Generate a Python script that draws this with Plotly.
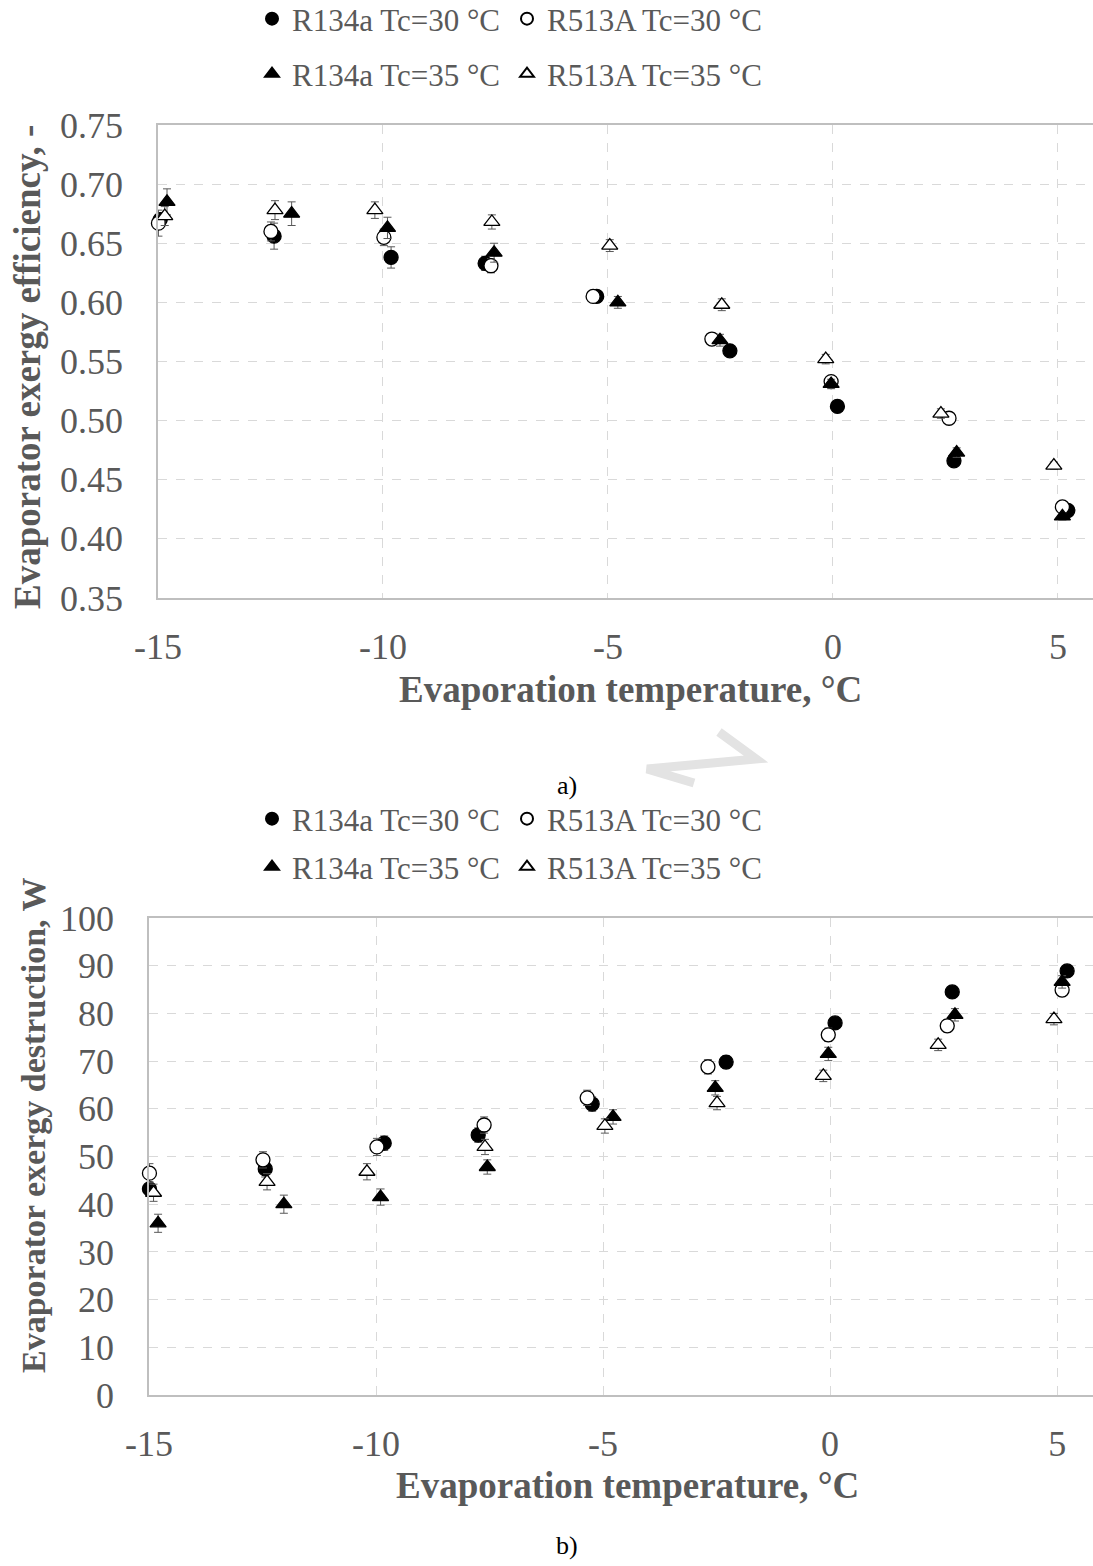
import plotly.graph_objects as go

FONT = "Liberation Serif"
GREY = "#595959"
W, H = 1093, 1566

# ---------------- data ----------------
x_tick_vals = [-15, -10, -5, 0, 5]
x_tick_text = ["-15", "-10", "-5", "0", "5"]

names = ["R134a Tc=30 °C", "R513A Tc=30 °C", "R134a Tc=35 °C", "R513A Tc=35 °C"]

# a) evaporator exergy efficiency
a_x_r134a_30 = [-14.95, -12.42, -9.82, -7.73, -5.25, -2.29, 0.10, 2.69, 5.22]
a_y_r134a_30 = [0.670, 0.656, 0.638, 0.633, 0.605, 0.559, 0.512, 0.466, 0.424]
a_e_r134a_30 = [0.006, 0.011, 0.009, 0.006, 0.005, 0.004, 0.004, 0.003, 0.003]

a_x_r513a_30 = [-14.99, -12.49, -9.98, -7.60, -5.33, -2.69, -0.04, 2.58, 5.10]
a_y_r513a_30 = [0.667, 0.660, 0.655, 0.631, 0.605, 0.569, 0.533, 0.502, 0.427]
a_e_r513a_30 = [0.011, 0.008, 0.007, 0.006, 0.005, 0.004, 0.004, 0.003, 0.003]

a_x_r134a_35 = [-14.80, -12.03, -9.90, -7.53, -4.78, -2.51, -0.04, 2.75, 5.10]
a_y_r134a_35 = [0.685, 0.675, 0.663, 0.642, 0.600, 0.568, 0.531, 0.473, 0.419]
a_e_r134a_35 = [0.011, 0.010, 0.009, 0.008, 0.005, 0.005, 0.004, 0.004, 0.003]

a_x_r513a_35 = [-14.85, -12.40, -10.18, -7.58, -4.96, -2.47, -0.16, 2.40, 4.91]
a_y_r513a_35 = [0.673, 0.678, 0.678, 0.668, 0.648, 0.598, 0.552, 0.506, 0.462]
a_e_r513a_35 = [0.008, 0.008, 0.007, 0.006, 0.005, 0.005, 0.004, 0.004, 0.003]

# b) evaporator exergy destruction, W
b_x_r134a_30 = [-14.99, -12.44, -9.82, -7.75, -5.24, -2.29, 0.11, 2.69, 5.22]
b_y_r134a_30 = [43.2, 47.4, 52.8, 54.5, 61.0, 69.8, 78.0, 84.5, 88.9]
b_e_r134a_30 = [1.5, 1.7, 1.5, 1.5, 1.5, 1.3, 1.2, 1.2, 1.2]

b_x_r513a_30 = [-14.99, -12.49, -9.98, -7.62, -5.35, -2.69, -0.04, 2.58, 5.11]
b_y_r513a_30 = [46.5, 49.3, 52.0, 56.6, 62.3, 68.8, 75.5, 77.4, 84.9]
b_e_r513a_30 = [2.0, 1.7, 1.8, 1.7, 1.6, 1.5, 1.4, 1.3, 1.3]

b_x_r134a_35 = [-14.80, -12.03, -9.90, -7.55, -4.78, -2.53, -0.04, 2.75, 5.11]
b_y_r134a_35 = [36.0, 40.0, 41.5, 47.8, 58.3, 64.4, 71.5, 79.7, 86.6]
b_e_r134a_35 = [1.9, 1.9, 1.7, 1.5, 1.5, 1.5, 1.4, 1.3, 1.3]

b_x_r513a_35 = [-14.90, -12.40, -10.20, -7.60, -4.96, -2.49, -0.15, 2.38, 4.93]
b_y_r513a_35 = [42.4, 44.7, 46.8, 52.0, 56.4, 61.2, 66.9, 73.4, 78.8]
b_e_r513a_35 = [1.8, 1.7, 1.7, 1.6, 1.5, 1.4, 1.2, 1.2, 1.2]

# ---------------- styles ----------------
styles = [
    dict(symbol="circle", color="black"),
    dict(symbol="circle", color="white"),
    dict(symbol="triangle-up", color="black"),
    dict(symbol="triangle-up", color="white"),
]

a_series = [(a_x_r134a_30, a_y_r134a_30, a_e_r134a_30),
            (a_x_r513a_30, a_y_r513a_30, a_e_r513a_30),
            (a_x_r134a_35, a_y_r134a_35, a_e_r134a_35),
            (a_x_r513a_35, a_y_r513a_35, a_e_r513a_35)]
b_series = [(b_x_r134a_30, b_y_r134a_30, b_e_r134a_30),
            (b_x_r513a_30, b_y_r513a_30, b_e_r513a_30),
            (b_x_r134a_35, b_y_r134a_35, b_e_r134a_35),
            (b_x_r513a_35, b_y_r513a_35, b_e_r513a_35)]


def px(p):
    return p / W


def py(p):
    return 1 - p / H


fig = go.Figure()

for chart, series, xa, ya, legs in (("a", a_series, "x", "y", ["legend", "legend", "legend2", "legend2"]),
                                     ("b", b_series, "x2", "y2", ["legend3", "legend3", "legend4", "legend4"])):
    for i, (xs, ys, es) in enumerate(series):
        st = styles[i]
        fig.add_trace(go.Scatter(
            x=xs, y=ys, mode="markers", name=names[i],
            xaxis=xa, yaxis=ya, legend=legs[i],
            marker=dict(symbol=st["symbol"], color=st["color"], size=14,
                        line=dict(color="black", width=1.3)),
            error_y=dict(type="data", array=es, visible=True, color=GREY,
                         thickness=1, width=4),
            cliponaxis=False,
        ))

axis_font = dict(family=FONT, size=36, color=GREY)
common_x = dict(tickvals=x_tick_vals, ticktext=x_tick_text, showgrid=True,
                gridcolor="#d9d9d9", griddash="dash", gridwidth=1, zeroline=False,
                showline=True, linecolor="#bfbfbf", linewidth=1.5, mirror=True,
                ticks="", tickfont=axis_font, ticklabelstandoff=16, automargin=False)
common_y = dict(showgrid=True, gridcolor="#d9d9d9", griddash="dash", gridwidth=1,
                zeroline=False, showline=True, linecolor="#bfbfbf", linewidth=1.5,
                ticks="", tickfont=axis_font, ticklabelstandoff=26, automargin=False)

layout = dict(
    width=W, height=H, margin=dict(l=0, r=0, t=0, b=0, autoexpand=False),
    paper_bgcolor="white", plot_bgcolor="white",
    font=dict(family=FONT, color=GREY),
    xaxis=dict(domain=[px(158), 1], range=[-15, 5.78], anchor="y", **common_x),
    yaxis=dict(domain=[py(598), py(125)], range=[0.35, 0.75], dtick=0.05,
               tick0=0.35, tickformat=".2f", anchor="x", **common_y),
    xaxis2=dict(domain=[px(149), 1], range=[-15, 5.79], anchor="y2", **common_x),
    yaxis2=dict(domain=[py(1395), py(918)], range=[0, 100], dtick=10,
                anchor="x2", **common_y),
)

leg_common = dict(orientation="h", xanchor="left", yanchor="middle",
                  xref="container", yref="container",
                  font=dict(family=FONT, size=31, color=GREY),
                  entrywidth=210, entrywidthmode="pixels", itemsizing="constant",
                  bgcolor="rgba(0,0,0,0)", tracegroupgap=0)
layout["legend"] = dict(x=px(252), y=py(19), **leg_common)
layout["legend2"] = dict(x=px(252), y=py(74), **leg_common)
layout["legend3"] = dict(x=px(252), y=py(819), **leg_common)
layout["legend4"] = dict(x=px(252), y=py(867), **leg_common)

fig.update_layout(**layout)

ann = [
    dict(text="<b>Evaporation temperature, °C</b>", x=px(630), y=py(690), size=37),
    dict(text="<b>Evaporation temperature, °C</b>", x=px(627), y=py(1485), size=37),
    dict(text="<b>Evaporator exergy efficiency, -</b>", x=px(27), y=py(367), textangle=-90, size=37),
    dict(text="<b>Evaporator exergy destruction, W</b>", x=px(33), y=py(1126), textangle=-90, size=34),
]
for a in ann:
    size = a.pop("size")
    fig.add_annotation(xref="paper", yref="paper", showarrow=False,
                       xanchor="center", yanchor="middle",
                       font=dict(family=FONT, size=size, color=GREY), **a)

for txt, yy in (("a)", 785), ("b)", 1545)):
    fig.add_annotation(text=txt, xref="paper", yref="paper", x=px(567), y=py(yy),
                       showarrow=False, xanchor="center", yanchor="middle",
                       font=dict(family=FONT, size=26, color="black"))

# faint watermark arrow
pts = [(719, 732), (756, 759), (647, 769), (694, 783)]
path = "M " + " L ".join(f"{px(a)},{py(b)}" for a, b in pts)
fig.add_shape(type="path", path=path, xref="paper", yref="paper",
              line=dict(color="#e3e3e3", width=9), layer="below")

fig.write_html("out.html")
